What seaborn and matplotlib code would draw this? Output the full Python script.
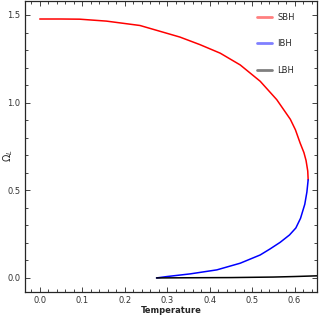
import pandas as pd
import numpy as np
import matplotlib
matplotlib.use('Agg')
import matplotlib.pyplot as plt
import seaborn as sns
from matplotlib.ticker import MultipleLocator
from matplotlib.lines import Line2D

# values
sbh_t = [0.0, 0.05, 0.094, 0.157, 0.236, 0.330, 0.377, 0.425, 0.472, 0.519,
         0.558, 0.590, 0.602, 0.613, 0.622, 0.627, 0.631, 0.632]
sbh_o = [1.477, 1.477, 1.476, 1.465, 1.440, 1.374, 1.331, 1.282, 1.215, 1.122,
         1.017, 0.905, 0.845, 0.770, 0.715, 0.670, 0.610, 0.560]
ibh_t = [0.275, 0.30, 0.354, 0.417, 0.472, 0.519, 0.542, 0.566, 0.588, 0.603,
         0.614, 0.624, 0.629, 0.632]
ibh_o = [0.0, 0.008, 0.023, 0.046, 0.084, 0.131, 0.165, 0.203, 0.245, 0.285,
         0.340, 0.420, 0.490, 0.560]
lbh_t = [0.275, 0.35, 0.45, 0.55, 0.60, 0.653]
lbh_o = [0.0, 0.001, 0.002, 0.005, 0.008, 0.012]

df = pd.concat([
    pd.DataFrame({'T': sbh_t, 'O': sbh_o, 'phase': 'SBH'}),
    pd.DataFrame({'T': ibh_t, 'O': ibh_o, 'phase': 'IBH'}),
    pd.DataFrame({'T': lbh_t, 'O': lbh_o, 'phase': 'LBH'}),
])
colors = {'SBH': '#ff0000', 'IBH': '#0000ff', 'LBH': '#000000'}

sns.set_style('ticks')
plt.rcParams['font.family'] = ['DejaVu Sans']

fig = plt.figure(figsize=(3.19, 3.17), dpi=100)
ax = fig.add_axes([0.078, 0.079, 0.916, 0.918])
sns.lineplot(data=df, x='T', y='O', hue='phase', palette=colors, sort=False,
             estimator=None, lw=1.1, ax=ax, legend=False)

ax.set_xlim(-0.035, 0.653)
ax.set_ylim(-0.08, 1.58)
ax.xaxis.set_major_locator(MultipleLocator(0.1))
ax.xaxis.set_minor_locator(MultipleLocator(0.02))
ax.yaxis.set_major_locator(MultipleLocator(0.5))
ax.yaxis.set_minor_locator(MultipleLocator(0.1))
ax.tick_params(which='both', direction='in', top=True, right=True, width=0.6,
               labelsize=6, labelcolor='#333333', pad=3)
ax.tick_params(which='major', length=3.5)
ax.tick_params(which='minor', length=2)
for s in ax.spines.values():
    s.set_linewidth(0.9)

ax.set_xlabel('Temperature', fontsize=6, fontweight='bold')
ax.set_ylabel(r'$\Omega_L$', fontsize=7)
ax.xaxis.set_label_coords(0.5, -0.048)
ax.yaxis.set_label_coords(-0.035, 0.47)

handles = [Line2D([], [], color=colors[k], lw=2, alpha=0.5) for k in ['SBH', 'IBH', 'LBH']]
ax.legend(handles, ['SBH', 'IBH', 'LBH'], loc='upper right', frameon=False,
          fontsize=6, handlelength=1.8, handletextpad=0.6, labelspacing=2.1,
          bbox_to_anchor=(0.95, 0.985))

fig.savefig('out.png', dpi=100)
